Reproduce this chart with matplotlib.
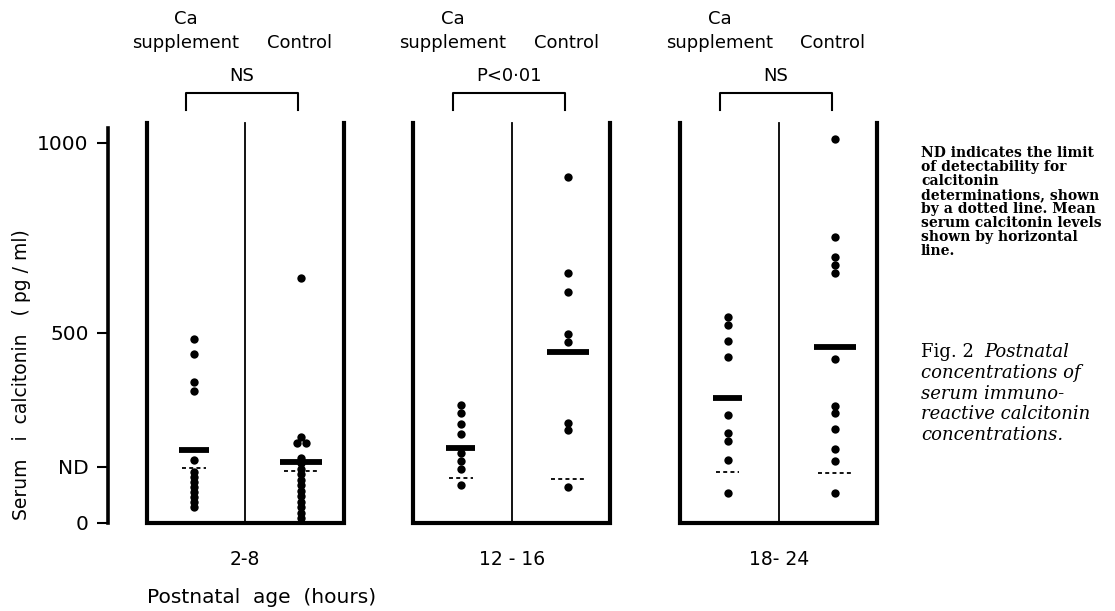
import numpy as np
import matplotlib.pyplot as plt

# postnatal age groups and the two arms
age_groups = ["2-8", "12 - 16", "18- 24"]
arms = ["Ca\nsupplement", "Control"]
p_labels = ["NS", "P<0\u00b701", "NS"]

# serum calcitonin (pg/ml)
ca_2_8 = [483, 443, 369, 347, 165, 134, 121, 108, 95, 82, 68, 55, 42]
ctl_2_8 = [645, 225, 209, 209, 170, 156, 141, 127, 112, 98, 83, 69, 54, 40, 26, 12]
ca_12_16 = [310, 289, 260, 233, 183, 162, 141, 99]
ctl_12_16 = [911, 656, 606, 496, 476, 263, 244, 95]
ca_18_24 = [542, 520, 479, 435, 283, 235, 216, 165, 77]
ctl_18_24 = [1009, 753, 698, 678, 658, 430, 307, 288, 246, 193, 163, 77]

mean_ca = [191, 196, 327]
mean_ctl = [160, 450, 463]
nd_ca = [143, 118, 134]
nd_ctl = [136, 115, 132]
nd_tick = 147

groups = [(ca_2_8, ctl_2_8), (ca_12_16, ctl_12_16), (ca_18_24, ctl_18_24)]

W, H = 1115, 611
fig = plt.figure(figsize=(W / 100, H / 100), dpi=100)
ax_left, ax_right = 108, 900
ax_bot, ax_top = 530.3, 100.9
ax = fig.add_axes([ax_left / W, 1 - ax_bot / H, (ax_right - ax_left) / W, (ax_bot - ax_top) / H])
ax.set_xlim(-0.391, 7.65)
ax.set_ylim(-20, 1110)

label_font = "DejaVu Sans"
pitch = 2.71
x_ca, x_ctl = 0.48, 1.57


def spread(vals, x0, dx=0.045):
    # put equal values side by side
    xs = []
    for i, v in enumerate(vals):
        n = vals.count(v)
        if n > 1:
            k = vals[:i].count(v)
            xs.append(x0 + (k - (n - 1) / 2) * 2 * dx)
        else:
            xs.append(x0)
    return xs


for i, (ca, ctl) in enumerate(groups):
    x0 = i * pitch
    # U-shaped panel with divider
    ax.plot([x0, x0, x0 + 2, x0 + 2], [1052, 0, 0, 1052], color="black",
            lw=3.0, solid_joinstyle="miter", clip_on=False)
    ax.plot([x0 + 1, x0 + 1], [0, 1052], color="black", lw=1.3, clip_on=False)

    for vals, xc, m, nd, hw, nw in [(ca, x0 + x_ca, mean_ca[i], nd_ca[i], 0.15, 0.12),
                                    (ctl, x0 + x_ctl, mean_ctl[i], nd_ctl[i], 0.21, 0.17)]:
        ax.scatter(spread(vals, xc), vals, s=36, color="black", zorder=3, linewidths=0)
        ax.plot([xc - hw, xc + hw], [m, m], color="black", lw=4.2,
                solid_capstyle="butt", zorder=4)
        ax.plot([xc - nw, xc + nw], [nd, nd], color="black", lw=1.3,
                ls=(0, (2.2, 1.8)), zorder=2)

    # significance bracket
    bl, br = x0 + x_ca - 0.08, x0 + x_ctl - 0.03
    ax.plot([bl, bl, br, br], [1086, 1131, 1131, 1086], color="black", lw=1.5,
            clip_on=False)
    ax.text((bl + br) / 2, 1152, p_labels[i], ha="center", va="bottom",
            fontsize=13, family=label_font)
    ax.text(x0 + 0.4, 1240, arms[0], ha="center", va="bottom", fontsize=13,
            family=label_font, linespacing=1.4)
    ax.text(x0 + 1.55, 1240, arms[1], ha="center", va="bottom", fontsize=13,
            family=label_font)
    ax.text(x0 + 1.0, -98, age_groups[i], ha="center", va="center",
            fontsize=13.5, family=label_font)

ax.text(0.0, -196, "Postnatal  age  (hours)", ha="left", va="center",
        fontsize=14.5, family=label_font)

# y axis
for s in ["top", "right", "bottom"]:
    ax.spines[s].set_visible(False)
ax.spines["left"].set_linewidth(2.6)
ax.spines["left"].set_bounds(0, 1040)
ax.set_xticks([])
ax.set_yticks([0, nd_tick, 500, 1000])
ax.set_yticklabels(["0", "ND", "500", "1000"], family=label_font, fontsize=14.5)
ax.tick_params(axis="y", direction="out", length=8, width=1.5, pad=6)
fig.text(22 / W, 1 - 375 / H, "Serum   i  calcitonin   ( pg / ml)", rotation=90,
         ha="center", va="center", fontsize=13.5, family=label_font)

note = ("ND indicates the limit\nof detectability for\ncalcitonin\n"
        "determinations, shown\nby a dotted line. Mean\nserum calcitonin levels\n"
        "shown by horizontal\nline.")
fig.text(921 / W, 1 - 146 / H, note, ha="left", va="top", fontsize=10,
         family="DejaVu Serif", fontweight="bold", linespacing=1.0)
fig.text(921 / W, 1 - 343 / H, "Fig. 2", ha="left", va="top", fontsize=13,
         family="DejaVu Serif")
fig.text(984 / W, 1 - 343 / H, "Postnatal", ha="left", va="top", fontsize=13,
         family="DejaVu Serif", style="italic")
fig.text(921 / W, 1 - 364 / H,
         "concentrations of\nserum immuno-\nreactive calcitonin\nconcentrations.",
         ha="left", va="top", fontsize=13, family="DejaVu Serif", style="italic",
         linespacing=1.18)

fig.savefig("out.png", dpi=100)
